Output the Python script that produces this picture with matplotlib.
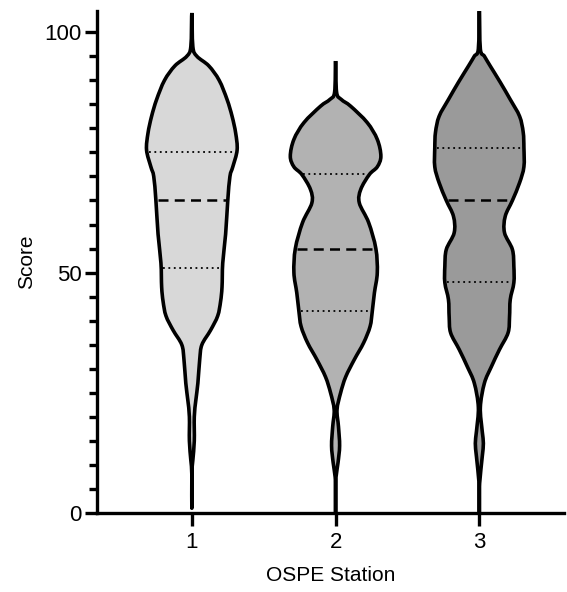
import numpy as np
import matplotlib.pyplot as plt
from matplotlib.path import Path
from matplotlib.patches import PathPatch

plt.rcParams['font.family'] = ['Liberation Sans', 'DejaVu Sans']

# Stationen
stations = [1, 2, 3]
tick_labels = ["1", "2", "3"]
farben = ["#d8d8d8", "#b2b2b2", "#9a9a9a"]

# Violin-Umriss: Score und halbe Breite
score_1 = np.array([104, 97, 95, 93, 90, 86, 82.5, 79, 75.5, 72, 70, 65, 58, 52, 47, 44, 41, 38, 35, 32, 27, 23.5, 20, 15, 11, 8, 1])
breite_1 = np.array([0, 0.007, 0.035, 0.118, 0.19, 0.245, 0.28, 0.305, 0.315, 0.285, 0.265, 0.25, 0.235, 0.215, 0.21, 0.2, 0.18, 0.13, 0.07, 0.055, 0.042, 0.028, 0.017, 0.017, 0.007, 0, 0])

score_2 = np.array([94, 87.5, 86, 84.6, 81.2, 77.7, 74.2, 72, 70.4, 67.3, 64.5, 60.4, 55, 50, 45.8, 41.9, 38.8, 35.4, 31.9, 28.3, 25, 21.5, 18, 14, 10.5, 7.5, 5, 0])
breite_2 = np.array([0, 0.007, 0.04, 0.105, 0.22, 0.29, 0.315, 0.29, 0.235, 0.175, 0.165, 0.23, 0.28, 0.29, 0.27, 0.255, 0.24, 0.195, 0.13, 0.07, 0.035, 0.01, 0.02, 0.028, 0.017, 0.003, 0, 0])

score_3 = np.array([104.4, 96.5, 95, 93, 89.6, 86, 82.5, 79.2, 76, 72, 68.7, 65, 61.7, 58.3, 54.8, 51.3, 47.9, 44.4, 40.8, 37.5, 34, 30.4, 27, 22, 17, 14.5, 11.7, 6.2, 3, 0])
breite_3 = np.array([0, 0.007, 0.035, 0.075, 0.145, 0.215, 0.28, 0.305, 0.31, 0.31, 0.28, 0.23, 0.18, 0.175, 0.23, 0.24, 0.24, 0.215, 0.21, 0.2, 0.14, 0.083, 0.035, 0.007, 0.02, 0.028, 0.02, 0.002, 0, 0])

# Median und Quartile
median = [65, 55, 65]
q1 = [51, 42, 48]
q3 = [75, 70.5, 76]

profile = [(score_1, breite_1), (score_2, breite_2), (score_3, breite_3)]


def glatter_pfad(px, py):
    # geschlossener Umriss als Bezier-Kurve (Catmull-Rom)
    p = np.column_stack([px, py])
    n = len(p)
    verts = [p[0]]
    codes = [Path.MOVETO]
    for k in range(n):
        p0, p1, p2, p3 = p[k - 1], p[k], p[(k + 1) % n], p[(k + 2) % n]
        verts += [p1 + (p2 - p0) / 6, p2 - (p3 - p1) / 6, p2]
        codes += [Path.CURVE4] * 3
    return Path(verts, codes)


fig = plt.figure(figsize=(5.67, 5.92), dpi=100)
ax = fig.add_axes([0.171, 0.1334, 0.824, 0.848])

for i, (s, b) in enumerate(profile):
    x0 = stations[i]
    xs = np.concatenate([x0 - b, (x0 + b)[::-1][1:-1]])
    ys = np.concatenate([s, s[::-1][1:-1]])
    patch = PathPatch(glatter_pfad(xs, ys), facecolor=farben[i], edgecolor="black",
                      linewidth=2.6, joinstyle="round", zorder=2)
    ax.add_patch(patch)
    # Linien fuer Median und Quartile
    order = np.argsort(s)
    for wert, stil, lw in [(median[i], (0, (4, 2.5)), 1.8), (q1[i], (0, (1, 2)), 1.3), (q3[i], (0, (1, 2)), 1.3)]:
        hw = np.interp(wert, s[order], b[order]) - 0.013
        ax.plot([x0 - hw, x0 + hw], [wert, wert], color="black", linestyle=stil, linewidth=lw, zorder=3)

ax.set_xlim(0.34, 3.59)
ax.set_ylim(0, 104.4)
ax.set_xticks(stations)
ax.set_xticklabels(tick_labels)
ax.set_yticks([0, 50, 100])
ax.set_yticks(np.arange(0, 101, 5), minor=True)
ax.spines["top"].set_visible(False)
ax.spines["right"].set_visible(False)
ax.spines["left"].set_linewidth(2.4)
ax.spines["bottom"].set_linewidth(2.4)
ax.tick_params(axis="both", which="major", width=2.4, length=9, labelsize=16, pad=2)
ax.tick_params(axis="y", which="minor", width=2.4, length=6)
ax.tick_params(axis="x", pad=5)
ax.set_ylabel("Score", fontsize=15, labelpad=6)
ax.set_xlabel("OSPE Station", fontsize=15, labelpad=9)

plt.savefig("out.png", dpi=100)
plt.close()
